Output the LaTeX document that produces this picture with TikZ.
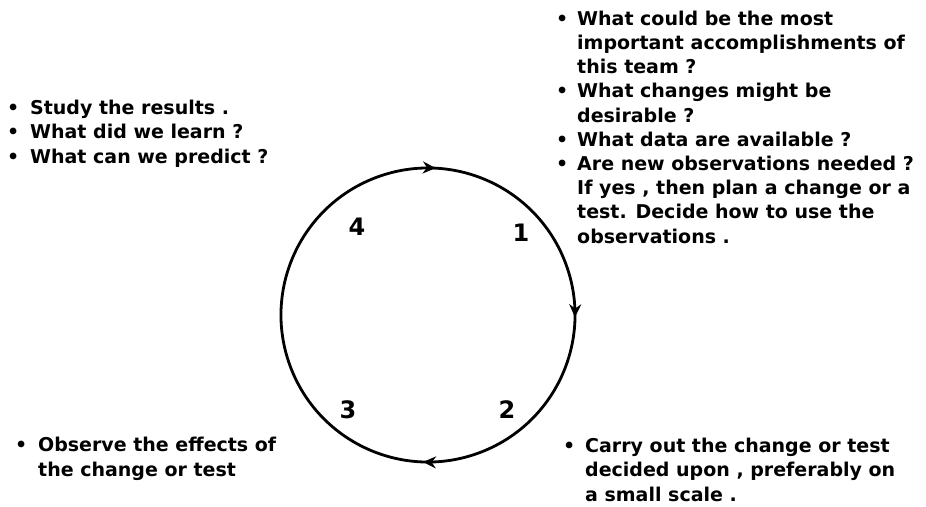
\documentclass[tikz,border=0pt]{standalone}
\usepackage{fontspec}
\setmainfont{DejaVu Sans}
\usetikzlibrary{arrows.meta,decorations.markings}
\newcommand{\bul}[1]{\llap{\textbullet\hspace{#1}}}
\tikzset{
  txt/.style={anchor=base west, inner sep=0pt, align=left, font=\fontsize{19}{24.2}\selectfont\bfseries},
  num/.style={inner sep=0pt, font=\fontsize{24}{28}\selectfont\bfseries},
  cyc/.style={line width=2.8pt, postaction={decorate}, decoration={markings,
     mark=at position 0.314 with {\arrow{Stealth[length=13pt,width=12pt]}},
     mark=at position 0.558 with {\arrow{Stealth[length=13pt,width=12pt]}},
     mark=at position 0.811 with {\arrow{Stealth[length=13pt,width=12pt]}},
     mark=at position 0.039 with {\arrow{Stealth[length=13pt,width=12pt]}}}}
}
\begin{document}
\begin{tikzpicture}[x=1pt,y=1pt]
\useasboundingbox[fill=white] (0,0) rectangle (926,-506);
\coordinate (c) at (428,-315);
\draw[cyc] (c) ++(200:147) arc[start angle=200, end angle=-160, radius=147];
\node[num] (n4) at (357,-227) {4};
\node[num] (n1) at (521,-233) {1};
\node[num] (n3) at (348,-410) {3};
\node[num] (n2) at (507,-410) {2};
\node[txt] (plan) at (577,-243) {\bul{9pt}What could be the most\\
important accomplishments of\\
this team ?\\
\bul{9pt}What changes might be\\
desirable ?\\
\bul{9pt}What data are available ?\\
\bul{9pt}Are new observations needed ?\\
If yes , then plan a change or a\\
test. Decide how to use the\\
observations .};
\node[txt] (study) at (30,-163) {\bul{11pt}Study the results .\\
\bul{11pt}What did we learn ?\\
\bul{11pt}What can we predict ?};
\node[txt] (observe) at (38,-476) {\bul{11pt}Observe the effects of\\
the change or test};
\node[txt] (carry) at (585,-501) {\bul{10pt}Carry out the change or test\\
decided upon , preferably on\\
a small scale .};
\end{tikzpicture}
\end{document}
